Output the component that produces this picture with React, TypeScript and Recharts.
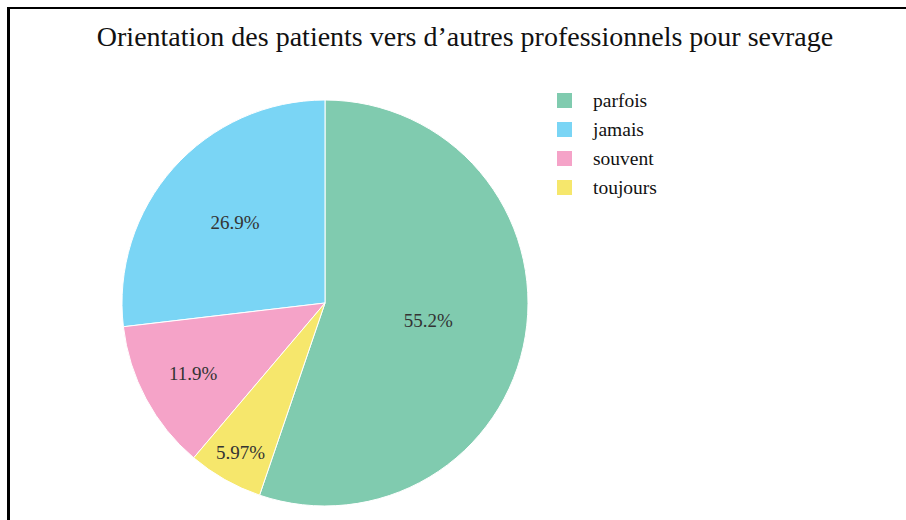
import { Cell, Legend, Pie, PieChart } from 'recharts';

const categories = ['parfois', 'jamais', 'souvent', 'toujours'];
const counts = [37, 18, 8, 4];
const colors = ['#80CBAF', '#7AD5F5', '#F5A3C8', '#F6E76C'];

const total = counts.reduce((a, b) => a + b, 0);
const data = categories.map((name, i) => ({ name, value: counts[i] }));

// first slice ends at 12 o'clock, rest go counter-clockwise
const startAngle = 90 - (360 * counts[0]) / total;

const RADIAN = Math.PI / 180;
const font = "'Liberation Serif', Tinos, 'Times New Roman', Times, 'DejaVu Serif', serif";

function formatPct(p: number) {
  return `${Number((p * 100).toPrecision(3))}%`;
}

function renderLabel(props: any) {
  const { cx, cy, midAngle, outerRadius, percent } = props;
  // small slices get their text pushed toward the rim
  const frac = 0.5 + 0.5 * Math.exp((-percent * 100) / 16);
  const r = outerRadius * frac;
  const x = cx + r * Math.cos(-midAngle * RADIAN);
  const y = cy + r * Math.sin(-midAngle * RADIAN);
  return (
    <text
      x={x}
      y={y}
      fill="#333"
      style={{ fontFamily: font }}
      fontSize={19}
      textAnchor="middle"
      dominantBaseline="central"
    >
      {formatPct(percent)}
    </text>
  );
}

function LegendBox() {
  return (
    <div style={{ fontFamily: font, fontSize: 19.5, color: '#111' }}>
      {categories.map((c, i) => (
        <div key={c} style={{ display: 'flex', alignItems: 'center', height: 29 }}>
          <span style={{ width: 15, height: 15, background: colors[i], marginRight: 21, display: 'inline-block' }} />
          <span>{c}</span>
        </div>
      ))}
    </div>
  );
}

export default function App() {
  return (
    <div style={{ position: 'absolute', left: 0, top: 0, width: 906, height: 520, background: '#fff', fontFamily: font }}>
      <div
        style={{
          position: 'absolute',
          left: 7,
          top: 7,
          right: 0,
          bottom: -4,
          borderTop: '2px solid #000',
          borderLeft: '3px solid #000',
        }}
      />
      <div
        style={{
          position: 'absolute',
          left: 0,
          top: 21,
          width: 930,
          textAlign: 'center',
          fontFamily: font,
          fontSize: 28,
          color: '#111',
        }}
      >
        Orientation des patients vers d’autres professionnels pour sevrage
      </div>
      <PieChart width={906} height={520}>
        <Pie
          data={data}
          dataKey="value"
          nameKey="name"
          cx={320}
          cy={298}
          outerRadius={203}
          startAngle={startAngle}
          endAngle={startAngle + 360}
          stroke="#fff"
          strokeWidth={1}
          label={renderLabel}
          labelLine={false}
          isAnimationActive={false}
        >
          {data.map((d, i) => (
            <Cell key={d.name} fill={colors[i]} />
          ))}
        </Pie>
        <Legend
          layout="vertical"
          content={() => <LegendBox />}
          wrapperStyle={{ position: 'absolute', left: 557, top: 86, width: 200 }}
        />
      </PieChart>
    </div>
  );
}
